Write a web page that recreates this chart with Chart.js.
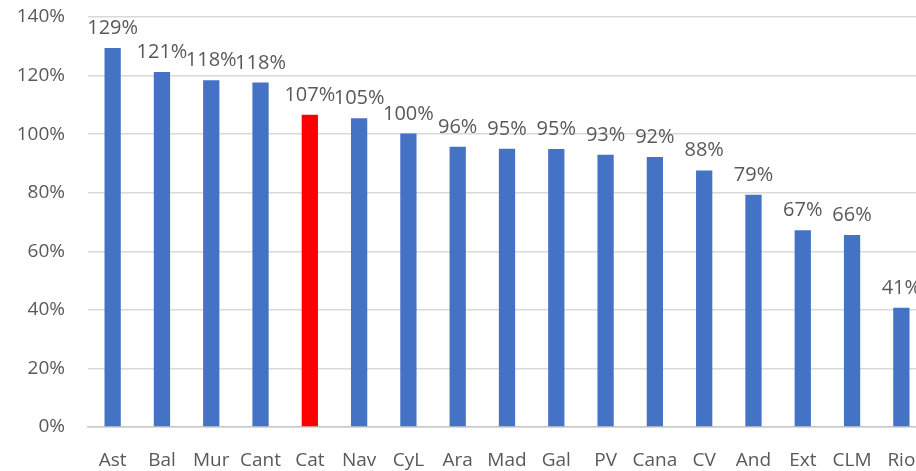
<!DOCTYPE html>
<html>
<head>
<meta charset="utf-8">
<script src="https://cdn.jsdelivr.net/npm/chart.js@4"></script>
<style>
  html, body { margin: 0; padding: 0; overflow: hidden; background: #fff; }
  #wrap { width: 940px; height: 471px; }
</style>
</head>
<body>
<div id="wrap"><canvas id="chart"></canvas></div>
<script>
// Regions and their values (% of reference)
const regions = ["Ast", "Bal", "Mur", "Cant", "Cat", "Nav", "CyL", "Ara", "Mad", "Gal", "PV", "Cana", "CV", "And", "Ext", "CLM", "Rio"];
const values = [129.4, 121.2, 118.4, 117.6, 106.6, 105.4, 100.2, 95.7, 95.0, 94.9, 93.0, 92.2, 87.6, 79.3, 67.2, 65.6, 40.7];
const highlight = "Cat";

const textColor = "#595959";
const fontFamily = "'Open Sans', 'Liberation Sans', sans-serif";

// draws the value above every bar
const valueLabels = {
  id: "valueLabels",
  afterDatasetsDraw(chart) {
    const ctx = chart.ctx;
    const meta = chart.getDatasetMeta(0);
    ctx.save();
    ctx.fillStyle = textColor;
    ctx.font = "20px " + fontFamily;
    ctx.textAlign = "center";
    ctx.textBaseline = "alphabetic";
    meta.data.forEach((bar, i) => {
      ctx.fillText(Math.round(values[i]) + "%", bar.x, bar.y - 14);
    });
    ctx.restore();
  },
};

new Chart(document.getElementById("chart"), {
  type: "bar",
  data: {
    labels: regions,
    datasets: [
      {
        data: values,
        backgroundColor: regions.map((r) => (r === highlight ? "#FF0000" : "#4472C4")),
        borderWidth: 0,
        categoryPercentage: 1,
        barPercentage: 0.33,
      },
    ],
  },
  options: {
    responsive: true,
    maintainAspectRatio: false,
    animation: false,
    layout: { padding: { top: 17, right: 14, left: 0, bottom: 0 } },
    scales: {
      x: {
        afterFit: (axis) => { axis.height = 44; },
        grid: { display: false },
        border: { color: "#c8c8c8", width: 1.5 },
        ticks: { color: textColor, font: { size: 19, family: fontFamily }, padding: 14, maxRotation: 0, autoSkip: false },
      },
      y: {
        min: 0,
        max: 140,
        afterFit: (axis) => {
          axis.width = 88;
          axis.paddingTop = 0;
          axis.paddingBottom = 0;
        },
        grid: { color: "#d9d9d9", lineWidth: 1.5, drawTicks: false },
        border: { display: false },
        ticks: {
          stepSize: 20,
          color: textColor,
          padding: 23,
          font: { size: 19, family: fontFamily },
          callback: (v) => v + "%",
        },
      },
    },
    plugins: {
      legend: { display: false },
      tooltip: { enabled: false },
    },
  },
  plugins: [valueLabels],
});
</script>
</body>
</html>
